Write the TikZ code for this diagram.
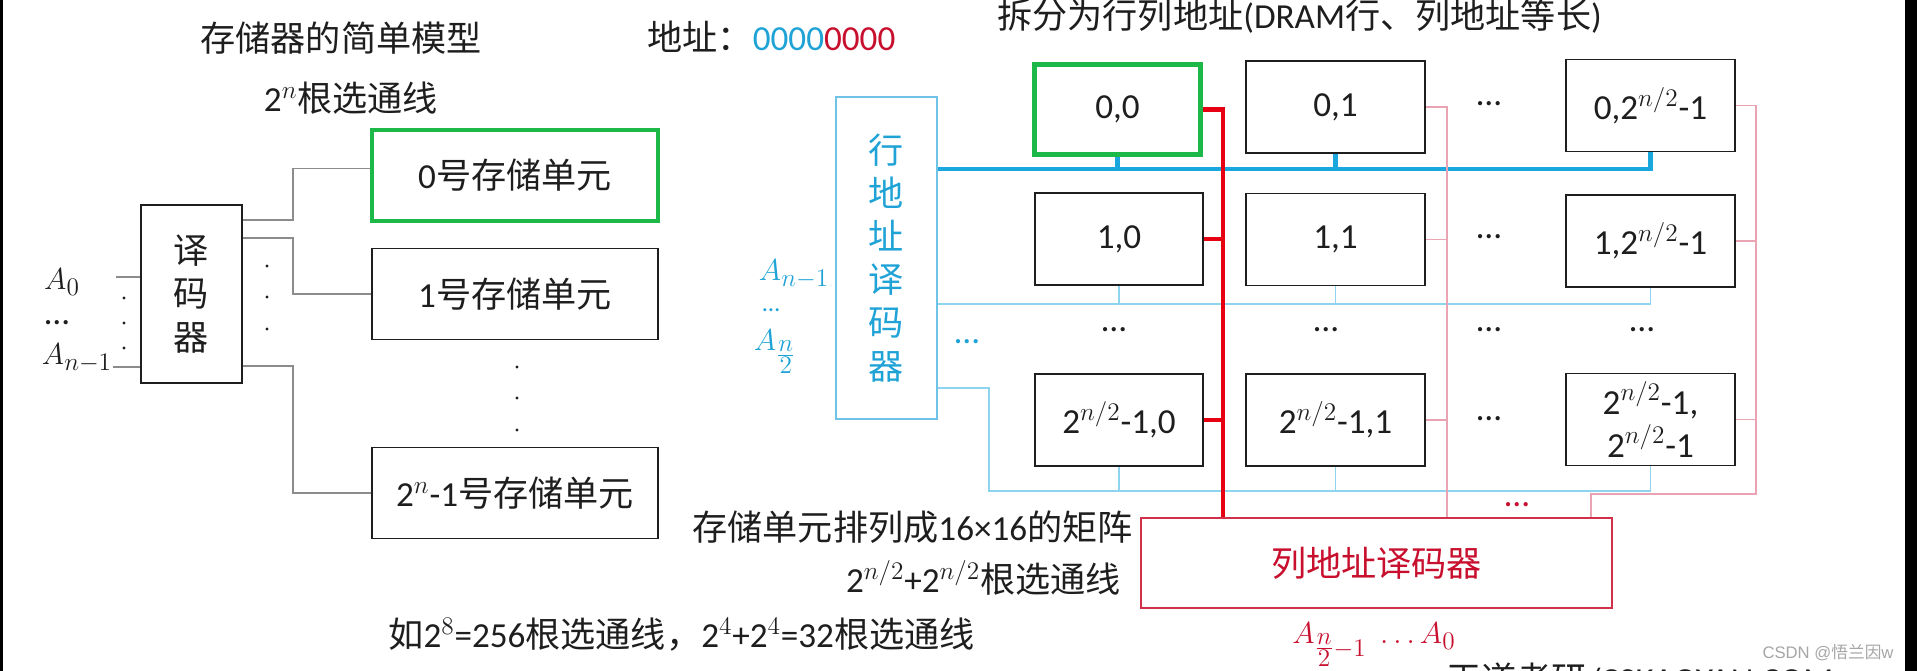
\documentclass[tikz,border=0pt]{standalone}
\usepackage{amsmath}
\usepackage{fontspec}
\setmainfont{Carlito}
\newfontfamily\cjk{Noto Sans CJK SC}
\newfontfamily\wmsans{Liberation Sans}
\newcommand{\zh}[1]{{\cjk #1}}
\usetikzlibrary{calc}

\definecolor{ink}{HTML}{1E1E1E}
\definecolor{wiregray}{HTML}{8C8C8C}
\definecolor{cellgreen}{HTML}{1CB848}
\definecolor{rowblue}{HTML}{1AA7DE}
\definecolor{rowbluetext}{HTML}{1FA3D6}
\definecolor{rowlight}{HTML}{8ED3EF}
\definecolor{rowdec}{HTML}{6EC3E6}
\definecolor{colred}{HTML}{E60012}
\definecolor{colredtext}{HTML}{C8102E}
\definecolor{coldec}{HTML}{D0304A}
\definecolor{colpink}{HTML}{E9A3B3}

\begin{document}
\begin{tikzpicture}[x=0.2mm, y=-0.2mm,
    every node/.style={inner sep=0pt, text=ink, font=\fontsize{20}{24.5}\selectfont},
    zhfont/.style={font=\fontsize{20}{24.5}\selectfont\cjk},
    mathlbl/.style={font=\fontsize{19}{22}\selectfont},
    decbox/.style={draw=ink, line width=1.1pt, minimum width=2.02cm, align=center},
    memcell/.style={draw=ink, line width=1.1pt, minimum width=5.72cm, minimum height=1.82cm},
    gridcell/.style={draw=ink, line width=1.1pt, minimum height=1.84cm, align=center},
    wire/.style={draw=wiregray, line width=0.8pt},
    rowbus/.style={draw=rowblue, line width=2.8pt},
    rowline/.style={draw=rowlight, line width=0.8pt},
    colbus/.style={draw=colred, line width=2.8pt},
    colline/.style={draw=colpink, line width=0.8pt}]

    \useasboundingbox (0,0) rectangle (1917,671);
    \fill[white] (0,0) rectangle (1917,671);
    % dark frame edges of the screenshot
    \fill[black] (0,0) rectangle (3,671);
    \fill[black] (1905,0) rectangle (1917,671);

    % ---- Simple model: one decoder, 2^n select lines ----
    \node[zhfont] (title1) at (341,38) {存储器的简单模型};
    \node (sel1) at (351,98) {2$^n$\zh{根选通线}};

    \node[decbox, zhfont, minimum height=3.56cm] (dec) at (191.5,294) {译\\码\\器};
    \node[memcell, draw=cellgreen, line width=2.8pt] (cell0) at (515,175.5) {0\zh{号存储单元}};
    \node[memcell] (cell1) at (515,294) {1\zh{号存储单元}};
    \node[memcell] (cellN) at (515,493) {2$^n$-1\zh{号存储单元}};

    % address inputs
    \node[mathlbl] (a0) at (62,282) {$A_0$};
    \node (adots) at (57,323) {…};
    \node[mathlbl] (an1) at (77,358) {$A_{n-1}$};
    \draw[wire] ($(dec.north west)+(0,73)$) -- ++(-24,0);
    \draw[wire] ($(dec.south west)+(0,-17)$) -- ++(-27,0);
    \foreach \y in {298,323,348} \fill[ink] (124,\y) circle (0.9pt);

    % select lines
    \draw[wire] ($(dec.north east)+(0,16)$) -- ++(50,0) |- ($(cell0.west)+(0,-7)$);
    \draw[wire] ($(dec.north east)+(0,34)$) -- ++(50,0) |- (cell1.west);
    \draw[wire] ($(dec.south east)+(0,-18)$) -- ++(50,0) |- (cellN.west);
    \foreach \y in {266,297,329} \fill[ink] (267,\y) circle (0.9pt);
    \foreach \y in {367,398,430} \fill[ink] (517,\y) circle (0.9pt);

    % ---- Row / column split ----
    \node[anchor=west] (addr) at (647,37) {\zh{地址：}\textcolor{rowbluetext}{0000}\textcolor{colredtext}{0000}};
    \node[anchor=west] (title2) at (997,16) {\zh{拆分为行列地址}(DRAM\zh{行、列地址等长})};

    % row address decoder
    \node[decbox, draw=rowdec, zhfont, text=rowbluetext, minimum height=6.44cm] (rdec) at (886.5,258)
        {行\\地\\址\\译\\码\\器};
    \node[mathlbl, text=rowbluetext] (ra1) at (794,274) {$A_{n-1}$};
    \node[text=rowbluetext, font=\fontsize{14}{16}\selectfont] (radots) at (771,310) {…};
    \node[mathlbl, text=rowbluetext] (ra2) at (775,352) {$A_{\genfrac{}{}{}{1}{n}{2}}$};

    % storage array
    \node[gridcell, draw=cellgreen, line width=2.8pt, minimum width=3.32cm, minimum height=1.8cm] (c00) at (1117.5,109.5) {0,0};
    \node[gridcell, minimum width=3.58cm] (c01) at (1335.5,107) {0,1};
    \node[gridcell, minimum width=3.38cm] (c02) at (1650.5,105.5) {0,2$^{n/2}$-1};
    \node[gridcell, minimum width=3.36cm] (c10) at (1119,239) {1,0};
    \node[gridcell, minimum width=3.58cm] (c11) at (1335.5,239.5) {1,1};
    \node[gridcell, minimum width=3.38cm] (c12) at (1650.5,241) {1,2$^{n/2}$-1};
    \node[gridcell, minimum width=3.36cm] (c20) at (1119,420) {2$^{n/2}$-1,0};
    \node[gridcell, minimum width=3.58cm] (c21) at (1335.5,420) {2$^{n/2}$-1,1};
    \node[gridcell, minimum width=3.38cm] (c22) at (1650.5,419.5) {2$^{n/2}$-1,\\2$^{n/2}$-1};

    % skipped rows and columns
    \foreach \y [count=\i] in {104,237,419} \node (rowdots\i) at (1489,\y) {…};
    \foreach \x [count=\i] in {1114,1326,1489,1642} \node (coldots\i) at (\x,330) {…};
    \node[text=rowbluetext] (rowmore) at (967,342) {…};
    \node[text=colredtext] (colmore) at (1517,505) {…};

    % column address decoder
    \node[draw=coldec, line width=1.1pt, minimum width=9.42cm, minimum height=1.8cm, zhfont, text=colredtext] (cdec) at (1376.5,563) {列地址译码器};
    \node[mathlbl, text=colredtext] (ca) at (1374,645) {$A_{\genfrac{}{}{}{1}{n}{2}-1}\;\ldots A_0$};

    % row select lines (row 0 highlighted)
    \draw[rowbus] ($(rdec.north east)+(0,73)$) coordinate (rs0) -| (c02.south);
    \foreach \c in {c00,c01} \draw[rowbus] (\c.south) -- (\c.south |- rs0);
    \draw[rowline] ($(rdec.north east)+(0,208)$) coordinate (rs1) -| (c12.south);
    \foreach \c in {c10,c11} \draw[rowline] (\c.south) -- (\c.south |- rs1);
    \draw[rowline] ($(rdec.south east)+(0,-32)$) -- ++(51,0) -- ++(0,103) coordinate (rs2) -| (c22.south);
    \foreach \c in {c20,c21} \draw[rowline] (\c.south) -- (\c.south |- rs2);

    % column select lines (column 0 highlighted)
    \draw[colbus] (c00.east) -- ++(20,0) coordinate (cs0) -- (cs0 |- cdec.north);
    \foreach \c in {c10,c20} \draw[colbus] (\c.east) -- (\c.east -| cs0);
    \draw[colline] (c01.east) -- ++(21,0) coordinate (cs1) -- (cs1 |- cdec.north);
    \foreach \c in {c11,c21} \draw[colline] (\c.east) -- (\c.east -| cs1);
    \coordinate (cs2turn) at (1591,494);
    \draw[colline] (c02.east) -- ++(20,0) coordinate (cs2) |- (cs2turn) -- (cs2turn |- cdec.north);
    \foreach \c in {c12,c22} \draw[colline] (\c.east) -- (\c.east -| cs2);

    % notes
    \node[anchor=east] (matrixnote) at (1133,527) {\zh{存储单元排列成}16×16\zh{的矩阵}};
    \node[anchor=east] (selnote) at (1121,578) {2$^{n/2}$+2$^{n/2}$\zh{根选通线}};
    \node[anchor=west] (examplenote) at (388,635) {\zh{如}2$^8$=256\zh{根选通线，}2$^4$+2$^4$=32\zh{根选通线}};

    % watermarks
    \node[text=gray!70, font=\fontsize{9.5}{11}\selectfont\wmsans] (csdn) at (1828,653) {CSDN @\zh{悟兰因}w};
    \begin{scope}
        \clip (0,0) rectangle (1917,671);
        \node[anchor=north west] (wangdao) at (1446,662) {\zh{王道考研}/CSKAOYAN.COM};
    \end{scope}
\end{tikzpicture}
\end{document}
